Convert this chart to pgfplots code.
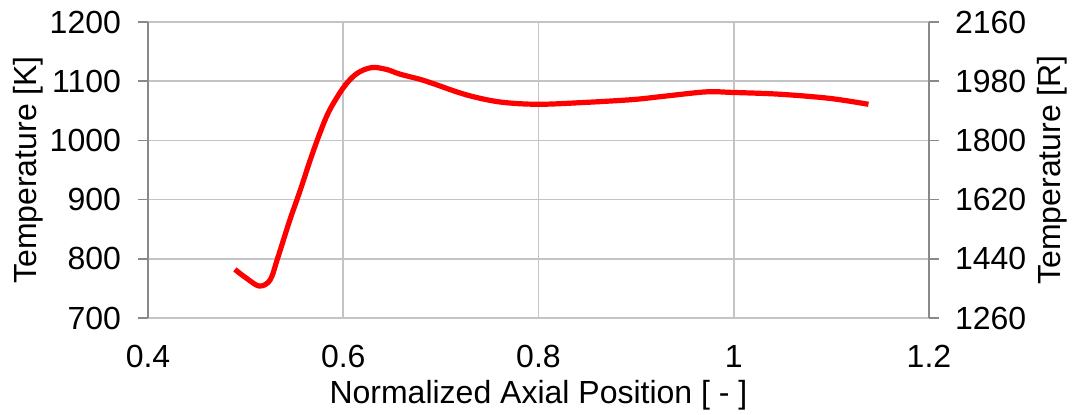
\documentclass[border=0pt]{standalone}
\usepackage{fontspec}
\setmainfont{Liberation Sans}
\usepackage{pgfplots}
\pgfplotsset{compat=1.18}
\definecolor{gridgray}{RGB}{196,196,196}
\definecolor{axisgray}{RGB}{137,137,137}
\begin{document}
\begin{tikzpicture}
\path[use as bounding box] (-74pt,-48.5pt) rectangle (462.5pt,159pt);
\pgfplotsset{
  tempbase/.style={
    scale only axis,
    width=390.5pt, height=148pt,
    at={(0,0)}, anchor=south west,
    xmin=0.4, xmax=1.2,
    /pgf/number format/assume math mode=true,
    /pgf/number format/1000 sep={},
    tick label style={font=\fontsize{16}{19}\selectfont},
    label style={font=\fontsize{16}{19}\selectfont},
    tick align=outside,
    major tick length=5pt,
    y axis line style={draw=axisgray, line width=0.8pt},
    ytick style={draw=axisgray, line width=0.8pt},
  }
}
\begin{axis}[
  tempbase,
  ymin=700, ymax=1200,
  ytick={700,800,...,1200},
  xtick={0.4,0.6,0.8,1,1.2},
  axis y line*=left,
  x axis line style={draw=gridgray, line width=0.8pt},
  xtick style={draw=none},
  grid=major,
  grid style={draw=gridgray, line width=0.8pt},
  yticklabel style={xshift=-5pt},
  xticklabel style={yshift=-5pt},
  xlabel={Normalized Axial Position [ - ]},
  ylabel={Temperature [K]},
  xlabel style={yshift=0.5pt},
  ylabel style={yshift=-3.5pt},
]
\addplot[red, line width=2.6pt, smooth, tension=0.55] coordinates {
  (0.489,782) (0.501,767) (0.514,754) (0.525,764) (0.533,802)
  (0.545,864) (0.556,916) (0.566,966) (0.576,1012) (0.586,1051)
  (0.601,1091) (0.614,1113) (0.629,1123) (0.644,1120) (0.658,1112)
  (0.679,1103) (0.692,1096) (0.726,1077) (0.760,1065) (0.799,1061)
  (0.846,1064) (0.897,1069) (0.931,1075) (0.972,1082) (0.999,1081)
  (1.047,1078) (1.098,1071) (1.138,1061)
};
\end{axis}
\begin{axis}[
  tempbase,
  ymin=1260, ymax=2160,
  ytick={1260,1440,...,2160},
  axis y line*=right,
  axis x line=none,
  yticklabel style={xshift=4.5pt},
  ylabel={Temperature [R]},
  ylabel style={yshift=1.5pt},
]
\end{axis}
\end{tikzpicture}
\end{document}
